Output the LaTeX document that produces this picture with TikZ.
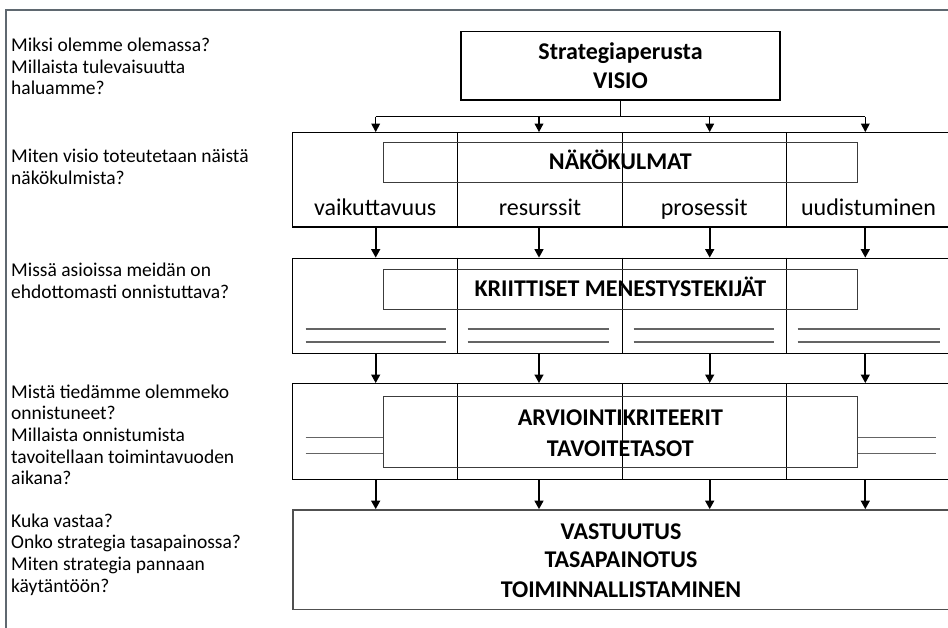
\documentclass[tikz,border=0pt]{standalone}
\usepackage{fontspec}
\setmainfont{Carlito}
\usetikzlibrary{arrows.meta}

\definecolor{framegray}{RGB}{95,104,112}
\definecolor{innergray}{RGB}{60,60,60}
\definecolor{rulegray}{RGB}{100,100,100}
\definecolor{basegray}{RGB}{80,80,80}

\tikzset{
  frameline/.style={draw=framegray, line width=1.1pt},
  boxline/.style={draw=black, line width=1.2pt},
  rowbox/.style={boxline, rectangle, inner sep=0pt, minimum width=658.3pt},
  innerbox/.style={draw=innergray, line width=1pt, rectangle, inner sep=0pt,
                   minimum width=473.3pt},
  basebox/.style={draw=basegray, line width=1.6pt, rectangle, inner sep=0pt,
                  minimum width=658.3pt},
  divider/.style={draw=black, line width=1pt},
  shortrule/.style={draw=rulegray, line width=1.3pt},
  question/.style={anchor=base west, inner sep=0pt,
                   font=\fontsize{19.5pt}{21.7pt}\selectfont},
  headline/.style={anchor=base, inner sep=0pt,
                   font=\bfseries\fontsize{24pt}{29pt}\selectfont},
  aspect/.style={anchor=base, inner sep=0pt,
                 font=\fontsize{24pt}{29pt}\selectfont},
  busarrow/.style={draw=black, line width=1.3pt,
                   -{Triangle[width=8.7pt,length=8.5pt]}},
  rowarrow/.style={draw=black, line width=2pt,
                   -{Triangle[width=8.7pt,length=8.5pt]}},
}

\begin{document}
\begin{tikzpicture}[x=1pt,y=-1pt]
  \useasboundingbox (0,0) rectangle (948,628);
  \clip (0,0) rectangle (948,628);

  % outer frame
  \draw[frameline] (6,640) -- (6,10) -- (960,10);

  % column positions of the four arrows
  \coordinate (c1) at (375.7,0);
  \coordinate (c2) at (539,0);
  \coordinate (c3) at (709.7,0);
  \coordinate (c4) at (865.3,0);
  \coordinate (bus) at (0,116.7);

  % boxes
  \node[boxline, rectangle, inner sep=0pt, minimum width=319pt, minimum height=68.3pt]
       (visio) at (620.5,65.85) {};
  \node[rowbox, minimum height=94.3pt] (row1) at (621.85,179.85) {};
  \node[rowbox, minimum height=95pt]   (row2) at (621.85,305.8) {};
  \node[rowbox, minimum height=95.6pt] (row3) at (621.85,431.5) {};
  \node[basebox, minimum height=99.3pt] (row4) at (621.85,559.65) {};

  % column dividers in the three upper rows
  \foreach \r in {row1,row2,row3} {
    \foreach \dx in {457.7,622,786.3} {
      \draw[divider] (\dx,0 |- \r.north) -- (\dx,0 |- \r.south);
    }
  }

  % inner title boxes
  \node[innerbox, minimum height=40pt]   (in1) at (620.35,162.3) {};
  \node[innerbox, minimum height=40pt]   (in2) at (620.35,289.3) {};
  \node[innerbox, minimum height=70.6pt] (in3) at (620.35,432) {};

  % titles
  \node[headline] (t1) at (620.5,60) {Strategiaperusta};
  \node[headline] (t2) at (620.5,89) {VISIO};
  \node[headline] (t3) at (620.35,170) {NÄKÖKULMAT};
  \node[headline] (t4) at (620.35,297) {KRIITTISET MENESTYSTEKIJÄT};
  \node[headline] (t5) at (620.35,425.7) {ARVIOINTIKRITEERIT};
  \node[headline] (t6) at (620.35,456) {TAVOITETASOT};
  \node[headline] (t7) at (621,539.3) {VASTUUTUS};
  \node[headline] (t8) at (621,567.8) {TASAPAINOTUS};
  \node[headline] (t9) at (621,597.5) {TOIMINNALLISTAMINEN};

  % the four aspects
  \node[aspect] (a1) at (375.2,216) {vaikuttavuus};
  \node[aspect] (a2) at (539.9,216) {resurssit};
  \node[aspect] (a3) at (704.2,216) {prosessit};
  \node[aspect] (a4) at (868.6,216) {uudistuminen};

  % writing lines under the success factors
  \foreach \xa/\xb in {305.7/445.7, 467.7/609, 633.6/774, 797.7/939.6} {
    \draw[shortrule] (\xa,329) -- (\xb,329);
    \draw[shortrule] (\xa,342) -- (\xb,342);
  }

  % writing lines beside the criteria box
  \coordinate (l1) at (305.7,437.7);
  \coordinate (l2) at (305.7,453.3);
  \coordinate (r1) at (936.3,437.7);
  \coordinate (r2) at (936.3,453.3);
  \draw[shortrule] (l1) -- (in3.west |- l1);
  \draw[shortrule] (l2) -- (in3.west |- l2);
  \draw[shortrule] (in3.east |- r1) -- (r1);
  \draw[shortrule] (in3.east |- r2) -- (r2);

  % vision to the four aspects
  \draw[draw=black, line width=1.3pt] (visio.south) -- (visio.south |- bus);
  \draw[draw=black, line width=1.3pt] (c1 |- bus) -- (c4 |- bus);
  \foreach \c in {c1,c2,c3,c4} {
    \draw[busarrow] (\c |- bus) -- (\c |- row1.north);
    \draw[rowarrow] (\c |- row1.south) -- (\c |- row2.north);
    \draw[rowarrow] (\c |- row2.south) -- (\c |- row3.north);
    \draw[rowarrow] (\c |- row3.south) -- (\c |- row4.north);
  }

  % guiding questions
  \foreach \txt/\yy [count=\i] in {
      Miksi olemme olemassa?/51.5,
      Millaista tulevaisuutta/73.2,
      haluamme?/95,
      Miten visio toteutetaan näistä/163,
      näkökulmista?/184.7,
      Missä asioissa meidän on/277,
      ehdottomasti onnistuttava?/298.7,
      Mistä tiedämme olemmeko/398,
      onnistuneet?/419.7,
      Millaista onnistumista/441.4,
      tavoitellaan toimintavuoden/463.1,
      aikana?/484.8,
      Kuka vastaa?/527,
      Onko strategia tasapainossa?/548.7,
      Miten strategia pannaan/570.4,
      käytäntöön?/592.1} {
    \node[question] (q\i) at (11,\yy) {\txt};
  }
\end{tikzpicture}
\end{document}
